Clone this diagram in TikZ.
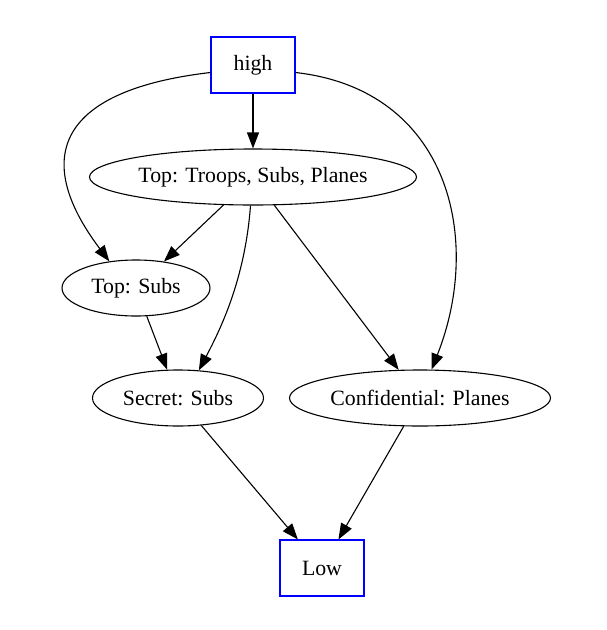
\documentclass[tikz,border=0pt]{standalone}
\usepackage{fontspec}
\setmainfont{Liberation Serif}
\usetikzlibrary{shapes.geometric,arrows.meta}

\begin{document}
\begin{tikzpicture}[x=1pt,y=-1pt,
  every node/.style={font=\fontsize{21.8}{26}\selectfont},
  lvl/.style={draw,ellipse,inner sep=0pt,minimum height=56pt,line width=1.1pt},
  bnd/.style={draw=blue,rectangle,minimum width=84pt,minimum height=56pt,inner sep=0pt,line width=1.1pt},
  flow/.style={line width=1.1pt,-{Triangle[length=16pt,width=12pt]}}]
\useasboundingbox (0,0) rectangle (606,630);
% the lattice
\node[bnd] (high) at (253,65) {high};
\node[lvl,minimum width=327pt] (tsp) at (253,177) {Top: Troops, Subs, Planes};
\node[lvl,minimum width=148pt] (ts) at (136,288) {Top: Subs};
\node[lvl,minimum width=171pt] (ss) at (178,398) {Secret: Subs};
\node[lvl,minimum width=261pt] (cp) at (420,398) {Confidential: Planes};
\node[bnd] (low) at (322,568) {Low};
% the flows
\draw[flow] (high) -- (tsp);
\draw[flow] (high.-170) .. controls (60,90) and (30,156) .. (ts.135);
\draw[flow] (high.-10) .. controls (450,90) and (483,240) .. (cp.68);
\draw[flow] (tsp) -- (ts);
\draw[flow] (tsp.265) .. controls (245,280) and (220,330) .. (ss.53);
\draw[flow] (tsp) -- (cp);
\draw[flow] (ts) -- (ss);
\draw[flow] (ss) -- (low);
\draw[flow] (cp) -- (low);
\end{tikzpicture}
\end{document}
